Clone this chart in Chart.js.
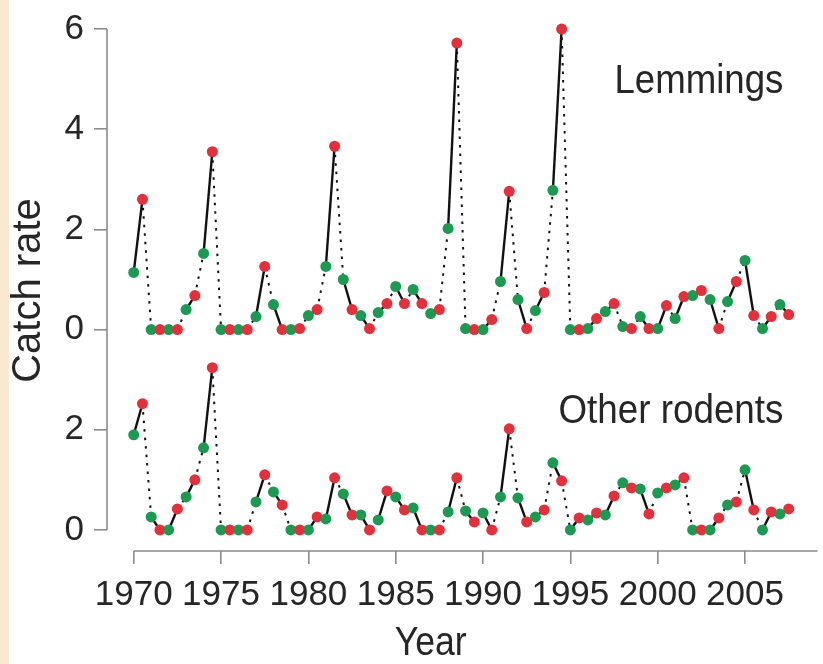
<!DOCTYPE html>
<html>
<head>
<meta charset="utf-8">
<script src="https://cdn.jsdelivr.net/npm/chart.js@4.4.1/dist/chart.umd.min.js"></script>
<style>
  html, body { margin: 0; padding: 0; background: #fff; }
  #wrap {
    width: 823px; height: 664px;
    background: linear-gradient(to right, #fbe9cf 0, #fbe9cf 9px, #fff 9px);
  }
  canvas { display: block; }
</style>
</head>
<body>
<div id="wrap"><canvas id="grafico" width="823" height="664"></canvas></div>
<script>
// datos: una captura en primavera (verde) y otra en otoño (rojo) por año
const years = [1970, 1971, 1972, 1973, 1974, 1975, 1976, 1977, 1978, 1979,
               1980, 1981, 1982, 1983, 1984, 1985, 1986, 1987, 1988, 1989,
               1990, 1991, 1992, 1993, 1994, 1995, 1996, 1997, 1998, 1999,
               2000, 2001, 2002, 2003, 2004, 2005, 2006, 2007];

const lemmingsSpring = [1.14, 0, 0, 0.4, 1.52, 0, 0, 0.26, 0.5, 0,
                        0.28, 1.26, 1.0, 0.28, 0.34, 0.86, 0.8, 0.32, 2.02, 0.02,
                        0, 0.96, 0.6, 0.38, 2.78, 0, 0.02, 0.36, 0.06, 0.26,
                        0.02, 0.22, 0.68, 0.6, 0.56, 1.38, 0.02, 0.5];
const lemmingsAutumn = [2.6, 0, 0, 0.68, 3.55, 0, 0, 1.26, 0, 0.02,
                        0.4, 3.66, 0.4, 0.02, 0.52, 0.52, 0.52, 0.4, 5.72, 0,
                        0.2, 2.76, 0.02, 0.74, 6.0, 0, 0.22, 0.52, 0.02, 0.02,
                        0.48, 0.66, 0.78, 0.02, 0.96, 0.28, 0.26, 0.3];

const rodentsSpring = [1.9, 0.26, 0, 0.66, 1.64, 0, 0, 0.56, 0.76, 0,
                       0, 0.22, 0.72, 0.3, 0.2, 0.66, 0.44, 0, 0.36, 0.38,
                       0.34, 0.66, 0.64, 0.26, 1.34, 0, 0.2, 0.3, 0.94, 0.82,
                       0.74, 0.9, 0, 0, 0.5, 1.2, 0, 0.32];
const rodentsAutumn = [2.52, 0, 0.42, 1.0, 3.24, 0, 0, 1.1, 0.5, 0,
                       0.26, 1.04, 0.3, 0, 0.78, 0.4, 0, 0, 1.04, 0.16,
                       0, 2.02, 0.16, 0.4, 0.98, 0.24, 0.34, 0.68, 0.84, 0.32,
                       0.84, 1.04, 0, 0.24, 0.56, 0.4, 0.36, 0.42];

const yearTicks = [1970, 1975, 1980, 1985, 1990, 1995, 2000, 2005];
const lemmingTicks = [0, 2, 4, 6];
const rodentTicks = [0, 2];

const verde = "#1c9a52";
const rojo = "#e3303b";
const gris = "#8c8c8c";
const texto = "#262626";
const fuente = "'Liberation Sans', Arial, Helvetica, sans-serif";

function serie(primavera, otono) {
    const puntos = [];
    years.forEach((anio, i) => {
        puntos.push({ x: anio, y: primavera[i] });
        puntos.push({ x: anio + 0.5, y: otono[i] });
    });
    return puntos;
}

function dataset(primavera, otono, eje) {
    return {
        data: serie(primavera, otono),
        yAxisID: eje,
        borderColor: "#111",
        borderWidth: 2.4,
        pointRadius: 5.5,
        pointHoverRadius: 5.5,
        pointBorderWidth: 0,
        pointBackgroundColor: ctx => (ctx.dataIndex % 2 === 0 ? verde : rojo),
        tension: 0,
        clip: false,
        segment: {
            // verano (primavera -> otoño) linea continua, invierno punteada
            borderDash: ctx => (ctx.p0DataIndex % 2 === 0 ? [] : [2.5, 6]),
            borderWidth: ctx => (ctx.p0DataIndex % 2 === 0 ? 2.4 : 2)
        }
    };
}

function sinRelleno(scale) {
    scale.paddingTop = 0;
    scale.paddingBottom = 0;
    scale.paddingLeft = 0;
    scale.paddingRight = 0;
}

function ejeY(ticks, min, max, peso) {
    return {
        type: "linear",
        position: "left",
        stack: "panel",
        stackWeight: peso,
        min: min,
        max: max,
        afterBuildTicks: scale => { scale.ticks = ticks.map(v => ({ value: v })); },
        afterFit: scale => { scale.width = 107; sinRelleno(scale); },
        ticks: { font: { family: fuente, size: 35 }, color: texto, padding: 10 },
        grid: { drawOnChartArea: false, tickLength: 13, color: gris, lineWidth: 1.6 },
        border: { display: false }
    };
}

const textos = {
    id: "textos",
    beforeDatasetsDraw(chart) {
        const { ctx, chartArea, scales } = chart;
        ctx.save();
        ctx.strokeStyle = gris;
        ctx.lineWidth = 1.6;
        ctx.beginPath();
        ctx.moveTo(chartArea.left, scales.yLemmings.getPixelForValue(6));
        ctx.lineTo(chartArea.left, scales.yRodents.getPixelForValue(0));
        ctx.moveTo(scales.x.getPixelForValue(1970), chartArea.bottom);
        ctx.lineTo(chartArea.right, chartArea.bottom);
        ctx.stroke();
        ctx.restore();
    },
    afterDraw(chart) {
        const { ctx, chartArea, scales } = chart;
        ctx.save();
        ctx.fillStyle = texto;
        ctx.textBaseline = "middle";
        ctx.textAlign = "right";
        ctx.font = "40px " + fuente;
        const xr = scales.x.getPixelForValue(2007.2);
        ctx.fillText("Lemmings", xr, scales.yLemmings.getPixelForValue(4.95), 169);
        ctx.fillText("Other rodents", xr, scales.yRodents.getPixelForValue(2.36), 225);

        ctx.textAlign = "center";
        ctx.fillText("Year", scales.x.getPixelForValue(1987), 644, 72);

        ctx.translate(29, (chartArea.top + chartArea.bottom) / 2 + 5);
        ctx.rotate(-Math.PI / 2);
        ctx.fillText("Catch rate", 0, 0);
        ctx.restore();
    }
};

document.addEventListener("DOMContentLoaded", () => {
    const ctx = document.getElementById("grafico").getContext("2d");
    new Chart(ctx, {
        type: "line",
        data: {
            datasets: [
                dataset(lemmingsSpring, lemmingsAutumn, "yLemmings"),
                dataset(rodentsSpring, rodentsAutumn, "yRodents")
            ]
        },
        options: {
            responsive: false,
            animation: false,
            layout: { padding: { top: 20, left: 0, right: 0, bottom: 0 } },
            plugins: { legend: { display: false }, tooltip: { enabled: false } },
            scales: {
                x: {
                    type: "linear",
                    min: 1968.47,
                    max: 2009.15,
                    afterBuildTicks: scale => { scale.ticks = yearTicks.map(v => ({ value: v })); },
                    afterFit: scale => { scale.height = 113; sinRelleno(scale); },
                    ticks: {
                        font: { family: fuente, size: 35 },
                        color: texto,
                        padding: 10,
                        maxRotation: 0,
                        autoSkip: false,
                        callback: v => String(v)
                    },
                    grid: { drawOnChartArea: false, tickLength: 13, color: gris, lineWidth: 1.6 },
                    border: { display: false }
                },
                yRodents: ejeY(rodentTicks, -0.42, 4, 4.42),
                yLemmings: ejeY(lemmingTicks, 0, 6.18, 6.18)
            }
        },
        plugins: [textos]
    });
});
</script>
</body>
</html>
